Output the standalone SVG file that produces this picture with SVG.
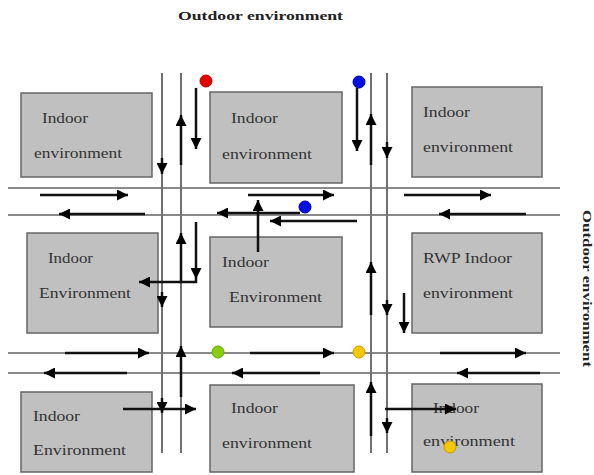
<svg xmlns="http://www.w3.org/2000/svg" width="594" height="475" viewBox="0 0 594 475">
<defs>
<marker id="ah" viewBox="0 0 10 10" refX="10" refY="5" markerWidth="11" markerHeight="11" markerUnits="userSpaceOnUse" orient="auto"><path d="M0,0 L10,5 L0,10 z" fill="#000"/></marker>
<style>
.box{fill:#c0c0c0;stroke:#666;stroke-width:1.5}
.t{font-family:"Liberation Serif","Times New Roman",serif;font-size:15px;fill:#333}
.road{stroke:#8a8a8a;stroke-width:2;fill:none}
.vroad{stroke:#707070;stroke-width:2;fill:none}
.ar{stroke:#111;stroke-width:2.5;fill:none;marker-end:url(#ah)}
.title{font-family:"Liberation Serif","Times New Roman",serif;font-size:13px;font-weight:bold;fill:#222}
</style>
</defs>
<rect width="594" height="475" fill="#fff"/>
<text class="title" x="178" y="20" textLength="165" lengthAdjust="spacingAndGlyphs">Outdoor environment</text>
<text class="title" transform="translate(583,210) rotate(90)" x="0" y="0" textLength="157" lengthAdjust="spacingAndGlyphs">Outdoor environment</text>

<g id="roads">
<line class="road" x1="8" y1="188" x2="560" y2="188"/>
<line class="road" x1="8" y1="215" x2="560" y2="215"/>
<line class="road" x1="8" y1="353" x2="560" y2="353"/>
<line class="road" x1="8" y1="373" x2="560" y2="373"/>
<line class="vroad" x1="162" y1="73" x2="162" y2="453"/>
<line class="vroad" x1="181" y1="73" x2="181" y2="453"/>
<line class="vroad" x1="371" y1="73" x2="371" y2="453"/>
<line class="vroad" x1="387" y1="73" x2="387" y2="453"/>
</g>

<g id="n1"><rect class="box" x="21" y="93" width="131" height="84"/>
<text class="t" x="42" y="123" textLength="46" lengthAdjust="spacingAndGlyphs">Indoor</text>
<text class="t" x="34" y="158" textLength="88" lengthAdjust="spacingAndGlyphs">environment</text></g>
<g id="n2"><rect class="box" x="210" y="92" width="132" height="91"/>
<text class="t" x="231" y="123" textLength="47" lengthAdjust="spacingAndGlyphs">Indoor</text>
<text class="t" x="222" y="159" textLength="90" lengthAdjust="spacingAndGlyphs">environment</text></g>
<g id="n3"><rect class="box" x="412" y="87" width="130" height="90"/>
<text class="t" x="423" y="117" textLength="47" lengthAdjust="spacingAndGlyphs">Indoor</text>
<text class="t" x="423" y="152" textLength="90" lengthAdjust="spacingAndGlyphs">environment</text></g>
<g id="n4"><rect class="box" x="27" y="233" width="131" height="100"/>
<text class="t" x="48" y="263" textLength="45" lengthAdjust="spacingAndGlyphs">Indoor</text>
<text class="t" x="39" y="298" textLength="92" lengthAdjust="spacingAndGlyphs">Environment</text></g>
<g id="n5"><rect class="box" x="210" y="237" width="132" height="90"/>
<text class="t" x="222" y="267" textLength="47" lengthAdjust="spacingAndGlyphs">Indoor</text>
<text class="t" x="229" y="302" textLength="93" lengthAdjust="spacingAndGlyphs">Environment</text></g>
<g id="n6"><rect class="box" x="412" y="233" width="130" height="100"/>
<text class="t" x="423" y="263" textLength="89" lengthAdjust="spacingAndGlyphs">RWP Indoor</text>
<text class="t" x="423" y="298" textLength="90" lengthAdjust="spacingAndGlyphs">environment</text></g>
<g id="n7"><rect class="box" x="21" y="392" width="131" height="80"/>
<text class="t" x="33" y="421" textLength="47" lengthAdjust="spacingAndGlyphs">Indoor</text>
<text class="t" x="33" y="455" textLength="93" lengthAdjust="spacingAndGlyphs">Environment</text></g>
<g id="n8"><rect class="box" x="210" y="385" width="144" height="87"/>
<text class="t" x="231" y="413" textLength="47" lengthAdjust="spacingAndGlyphs">Indoor</text>
<text class="t" x="222" y="448" textLength="90" lengthAdjust="spacingAndGlyphs">environment</text></g>
<g id="n9"><rect class="box" x="412" y="384" width="130" height="88"/>
<text class="t" x="433" y="413" textLength="46" lengthAdjust="spacingAndGlyphs">Indoor</text>
<text class="t" x="423" y="446" textLength="92" lengthAdjust="spacingAndGlyphs">environment</text></g>

<g id="connectors">
<!-- upper road -->
<line class="ar" x1="40" y1="195" x2="128" y2="195"/>
<line class="ar" x1="145" y1="214" x2="59" y2="214"/>
<line class="ar" x1="248" y1="195" x2="334" y2="195"/>
<line class="ar" x1="300" y1="213" x2="217" y2="213"/>
<line class="ar" x1="357" y1="221" x2="270" y2="221"/>
<line class="ar" x1="258" y1="252" x2="258" y2="200"/>
<line class="ar" x1="404" y1="195" x2="491" y2="195"/>
<line class="ar" x1="526" y1="214" x2="439" y2="214"/>
<!-- lower road -->
<line class="ar" x1="65" y1="353" x2="149" y2="353"/>
<line class="ar" x1="127" y1="373" x2="44" y2="373"/>
<line class="ar" x1="250" y1="353" x2="334" y2="353"/>
<line class="ar" x1="320" y1="373" x2="232" y2="373"/>
<line class="ar" x1="440" y1="353" x2="526" y2="353"/>
<line class="ar" x1="540" y1="373" x2="457" y2="373"/>
<!-- left column -->
<line class="ar" x1="162" y1="158" x2="162" y2="174"/>
<line class="ar" x1="181" y1="165" x2="181" y2="115"/>
<line class="ar" x1="196" y1="88" x2="196" y2="149"/>
<line class="ar" x1="181" y1="282" x2="181" y2="233"/>
<line class="ar" x1="196" y1="222" x2="196" y2="279"/>
<polyline class="ar" points="196,279 196,282 139,282"/>
<line class="ar" x1="162" y1="292" x2="162" y2="307"/>
<line class="ar" x1="181" y1="397" x2="181" y2="346"/>
<line class="ar" x1="162" y1="398" x2="162" y2="413"/>
<line class="ar" x1="123" y1="409" x2="196" y2="409"/>
<!-- right column -->
<line class="ar" x1="357" y1="88" x2="357" y2="151"/>
<line class="ar" x1="371" y1="165" x2="371" y2="114"/>
<line class="ar" x1="387" y1="142" x2="387" y2="158"/>
<line class="ar" x1="371" y1="315" x2="371" y2="262"/>
<line class="ar" x1="387" y1="300" x2="387" y2="315"/>
<line class="ar" x1="404" y1="293" x2="404" y2="333"/>
<line class="ar" x1="371" y1="436" x2="371" y2="382"/>
<line class="ar" x1="387" y1="418" x2="387" y2="433"/>
<line class="ar" x1="385" y1="409" x2="456" y2="409"/>
</g>

<g id="dots">
<circle cx="206" cy="81" r="6" fill="#e00000" stroke="#b00" stroke-width="1"/>
<circle cx="359" cy="82" r="6" fill="#0010e0" stroke="#00a" stroke-width="1"/>
<circle cx="305" cy="207" r="6" fill="#0010e0" stroke="#00a" stroke-width="1"/>
<circle cx="218" cy="352" r="6" fill="#88cc11" stroke="#6a0" stroke-width="1"/>
<circle cx="359" cy="352" r="6" fill="#f5c800" stroke="#c90" stroke-width="1"/>
<circle cx="450" cy="447" r="6" fill="#f5c800" stroke="#c90" stroke-width="1"/>
</g>
</svg>
